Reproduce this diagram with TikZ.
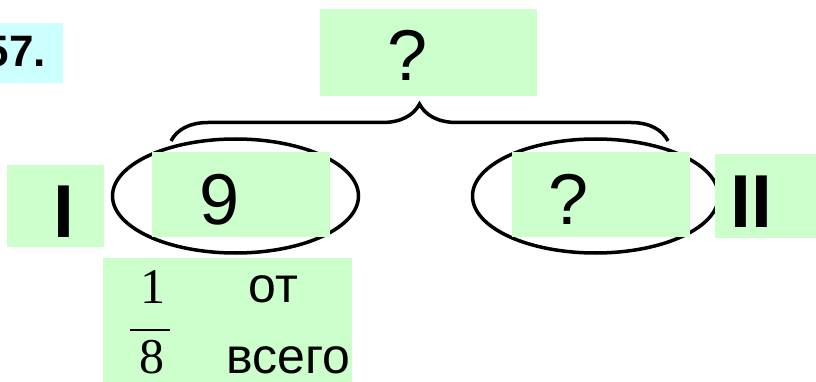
\documentclass[tikz,border=0pt]{standalone}
\usepackage{fontspec}
\setmainfont{Liberation Sans}
\newfontfamily\fracfont{Liberation Serif}
\usetikzlibrary{shapes.geometric,decorations.pathreplacing}
\definecolor{boxgreen}{RGB}{204,255,204}
\definecolor{boxcyan}{RGB}{204,255,255}

\begin{document}
\begin{tikzpicture}[x=1pt, y=-1pt,
    box/.style={rectangle, fill=boxgreen, inner sep=0pt},
    part/.style={ellipse, draw, line width=3.5pt, minimum width=246pt, minimum height=114pt},
    num/.style={inner sep=0pt, anchor=base, font=\fontsize{72}{80}\selectfont},
    roman/.style={inner sep=0pt, anchor=base, font=\fontsize{75}{80}\selectfont\bfseries},
    word/.style={inner sep=0pt, anchor=base, font=\fontsize{50}{56}\selectfont},
    fracnum/.style={inner sep=0pt, anchor=base, font=\fontsize{50}{56}\selectfont\fracfont}]
    \useasboundingbox (0,0) rectangle (816,382);

    \node[rectangle, fill=boxcyan, minimum width=83pt, minimum height=60pt] (taskbox) at (21.5,53) {};
    \node[inner sep=0pt, anchor=base east, font=\fontsize{44}{48}\selectfont\bfseries] (task) at (46,67) {57.};

    \node[part] (first) at (235.5,196) {};
    \node[part] (second) at (595.5,196) {};

    \node[box, minimum width=217pt, minimum height=87pt] (totalbox) at (428.5,52.5) {};
    \node[box, minimum width=178pt, minimum height=85pt] (firstbox) at (241,194.5) {};
    \node[box, minimum width=178pt, minimum height=85pt] (secondbox) at (601,194.5) {};
    \node[box, minimum width=97pt, minimum height=82pt] (onebox) at (55.5,206) {};
    \node[box, minimum width=101pt, minimum height=84pt] (twobox) at (765.5,196) {};
    \node[box, minimum width=249pt, minimum height=137pt] (fracbox) at (227.5,326.5) {};

    \node[num] (total) at (408,81) {?};
    \node[num] (nine) at (219.5,225) {9};
    \node[num] (rest) at (568.5,224) {?};
    \node[roman] (one) at (64,237) {I};
    \node[roman] (two) at (751,227) {II};

    \node[fracnum] (numer) at (153,303) {1};
    \node[fracnum] (denom) at (152,373) {8};
    \draw[line width=2.5pt] (130,330) -- (170,330);
    \node[word] (of) at (273.5,302) {от};
    \node[word] (whole) at (288.5,373) {всего};

    \coordinate (braceL) at (171,141);
    \coordinate (braceR) at (668,141);
    \draw[line width=3.5pt, decorate, decoration={brace, amplitude=37pt}] (braceL) -- (braceR);
\end{tikzpicture}
\end{document}
